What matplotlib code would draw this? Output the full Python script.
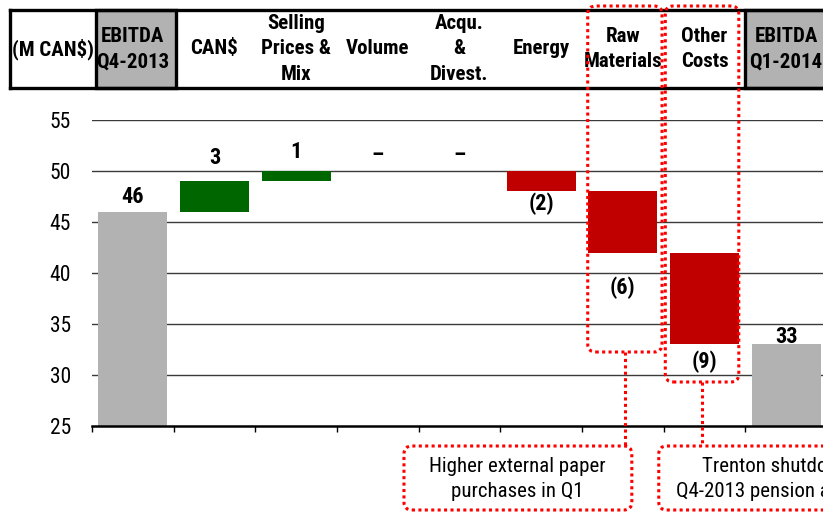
import matplotlib
matplotlib.use("Agg")
import matplotlib.pyplot as plt
from matplotlib.patches import Rectangle, FancyBboxPatch
from matplotlib.lines import Line2D
from matplotlib.transforms import blended_transform_factory, IdentityTransform

# ---- data -------------------------------------------------------------
categories = ["EBITDA\nQ4-2013", "CAN$", "Selling\nPrices &\nMix", "Volume",
              "Acqu.\n&\nDivest.", "Energy", "Raw\nMaterials", "Other\nCosts",
              "EBITDA\nQ1-2014"]
start_total = 46
changes = [3, 1, 0, 0, -2, -6, -9]
end_total = 33
value_labels = ["46", "3", "1", "–", "–", "(2)", "(6)", "(9)", "33"]
unit_label = "(M CAN$)"
y_ticks = [25, 30, 35, 40, 45, 50, 55]
callout_texts = ["Higher external paper\npurchases in Q1",
                 "Trenton shutdown and\nQ4-2013 pension adjustment"]

# ---- style ------------------------------------------------------------
W, H, DPI = 823, 514, 100
GRAY = "#b2b2b2"
GREEN = "#006600"
RED = "#c00000"
DOT_RED = "#ff0000"
plt.rcParams["font.family"] = ["Roboto Condensed", "Liberation Sans", "DejaVu Sans"]
# vertical offsets of the value labels (pixels from the bar edge)
label_offsets = [15, 23, 19, 16, 16, -12, -35, -17, 7]

fig = plt.figure(figsize=(W / DPI, H / DPI), dpi=DPI)
ax = fig.add_axes([92 / W, 1 - 426 / H, (827 - 92) / W, (426 - 120) / H])
ax.set_xlim(-0.5, len(categories) - 0.5)
ax.set_ylim(y_ticks[0], y_ticks[-1])

# ---- waterfall bars ---------------------------------------------------
n = len(categories)
bottoms, heights, colors = [], [], []
level = start_total
bottoms.append(y_ticks[0]); heights.append(start_total - y_ticks[0]); colors.append(GRAY)
for c in changes:
    new = level + c
    bottoms.append(min(level, new))
    heights.append(abs(c))
    colors.append(GREEN if c > 0 else RED)
    level = new
bottoms.append(y_ticks[0]); heights.append(end_total - y_ticks[0]); colors.append(GRAY)

xs = list(range(n))
ax.bar(xs, heights, bottom=bottoms, width=0.845, color=colors, zorder=3)

for i, (lab, off) in enumerate(zip(value_labels, label_offsets)):
    yref = bottoms[i] + heights[i] if off >= 0 else bottoms[i]
    ax.annotate(lab, (xs[i], yref), xytext=(0, off * 72 / DPI),
                textcoords="offset points", ha="center", va="center",
                fontsize=16, fontweight="bold", color="black", zorder=5)

# ---- axes styling -----------------------------------------------------
ax.set_yticks(y_ticks)
ax.set_yticklabels([str(t) for t in y_ticks], fontsize=15.5)
ax.tick_params(axis="y", length=0, pad=15)
ax.set_xticks([])
ax.set_xticks([b - 0.5 for b in range(n + 1)], minor=True)
ax.tick_params(axis="x", which="minor", direction="out", length=4, width=1, color="black")
for t in y_ticks[1:]:
    ax.axhline(t, color="#3a3a3a", lw=1.0, zorder=1)
for s in ["top", "right", "left"]:
    ax.spines[s].set_visible(False)
ax.spines["bottom"].set_linewidth(1.8)
ax.spines["bottom"].set_zorder(4)

# ---- header row -------------------------------------------------------
def fy(px):
    return 1 - px / H

hdr = blended_transform_factory(ax.transData, fig.transFigure)
h_top, h_bot = 10, 88
for yy in (h_top, h_bot):
    fig.add_artist(Line2D([-1.5, n + 1], [fy(yy), fy(yy)], transform=hdr,
                          color="black", lw=2.4, zorder=6))
fig.add_artist(Line2D([-1.5, -1.5], [fy(h_top), fy(h_bot)], transform=hdr,
                      color="black", lw=2.4, zorder=6))
for x0, x1 in [(-0.45, 0.53), (n - 1 - 0.5, n + 0.6)]:
    fig.add_artist(Rectangle((x0, fy(h_bot)), x1 - x0, fy(h_top) - fy(h_bot),
                             transform=hdr, facecolor=GRAY, edgecolor="black",
                             lw=2.4, zorder=5))
hdr_y = fy((h_top + h_bot) / 2)
fig.text(-0.98, hdr_y, unit_label, transform=hdr, ha="center", va="center",
         fontsize=15, fontweight="bold", zorder=7)
for i, cat in enumerate(categories):
    fig.text(xs[i], hdr_y, cat, transform=hdr, ha="center", va="center",
             fontsize=15, fontweight="bold", linespacing=1.42, zorder=7)

# ---- dotted highlight boxes and callouts ------------------------------
fig.canvas.draw()

def px_x(xd):
    return ax.transData.transform((xd, 0))[0]

def dotted_box(x0, x1, top_px, bot_px, r=8):
    X0, X1 = px_x(x0), px_x(x1)
    p = FancyBboxPatch((X0, H - bot_px), X1 - X0, bot_px - top_px,
                       boxstyle=f"round,pad=0,rounding_size={r}",
                       transform=IdentityTransform(), facecolor="none",
                       edgecolor=DOT_RED, lw=2.2, linestyle=(0, (1, 1.1)),
                       zorder=8)
    fig.add_artist(p)
    return (X0 + X1) / 2

def connector(xc, y0_px, y1_px):
    fig.add_artist(Line2D([xc, xc], [H - y0_px, H - y1_px],
                          transform=IdentityTransform(), color=DOT_RED,
                          lw=2.2, linestyle=(0, (1, 1.1)), zorder=8))

c1 = dotted_box(5.57, 6.48, 6, 352)
c2 = dotted_box(6.52, 7.42, 6, 382)
connector(c1, 352, 446)
connector(c2, 382, 446)

b1 = dotted_box(3.32, 6.11, 446, 510)
b2 = dotted_box(6.44, 9.46, 446, 510)
for cx, txt in zip([b1 - 1, b2 + 12], callout_texts):
    fig.text(cx, H - 479, txt, transform=IdentityTransform(), ha="center",
             va="center", fontsize=15, linespacing=1.38, zorder=9)

fig.savefig("out.png", dpi=DPI)
